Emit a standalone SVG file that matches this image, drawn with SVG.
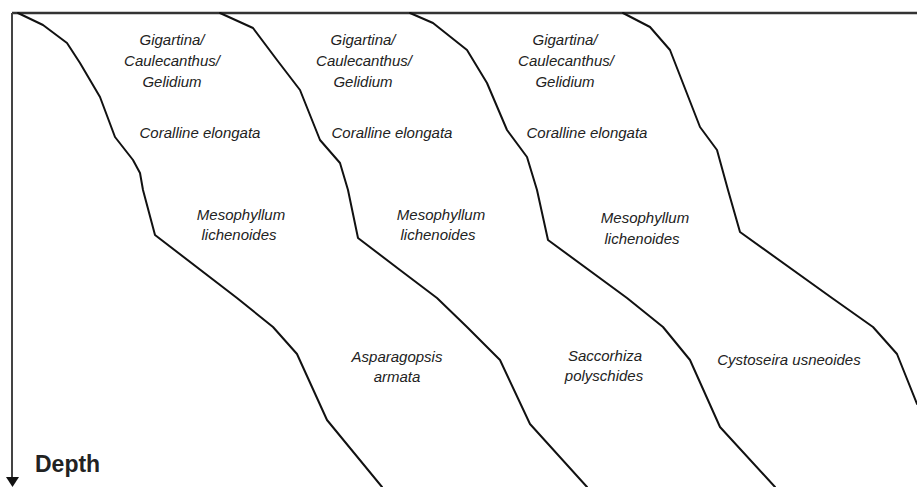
<svg xmlns="http://www.w3.org/2000/svg" width="917" height="487" viewBox="0 0 917 487">
<style>
.lbl{font-family:"Liberation Sans",Arial,sans-serif;font-style:italic;font-size:15px;fill:#222;text-anchor:middle}
.ax{font-family:"Liberation Sans",Arial,sans-serif;font-weight:bold;font-size:23px;fill:#222}
.zone{fill:none;stroke:#111;stroke-width:2;stroke-linejoin:round;stroke-linecap:round}
.axis{fill:none;stroke:#444;stroke-width:2}
</style>
<defs>
<marker id="arr" markerWidth="8" markerHeight="8" refX="4" refY="7" orient="auto" markerUnits="userSpaceOnUse" viewBox="0 0 8 8"><path d="M0,0 L8,0 L4,8 z" fill="#111"/></marker>
</defs>
<rect width="917" height="487" fill="#fff"/>
<g id="connectors">
<line class="axis" x1="12" y1="13" x2="917" y2="13" style="stroke:#333;stroke-width:2.5"/>
<line class="axis" x1="12" y1="13" x2="12" y2="478"/>
<path d="M6,477 L19,477 L12.5,487 z" fill="#111"/>
<path class="zone" d="M18,13 L43,25 L67,43 L80,63 L100,97 L115,137 L133,160 L140,173 L143,190 L155,235 L237,298 L273,327 L297,354 L327,420 L382,487"/>
<path class="zone" d="M220,13 L253,28 L277,60 L300,90 L320,140 L340,163 L348,190 L358,238 L400,270 L437,298 L467,327 L500,360 L530,424 L587,487"/>
<path class="zone" d="M410,13 L433,23 L467,50 L487,83 L507,130 L527,157 L537,190 L548,240 L627,298 L663,327 L690,360 L720,427 L775,487"/>
<path class="zone" d="M623,13 L650,27 L670,50 L700,127 L717,150 L728,190 L740,232 L832,298 L873,327 L897,354 L917,404"/>
</g>
<g id="depth-label"><text class="ax" x="35" y="472">Depth</text></g>
<g id="zone1-gigartina"><text class="lbl" x="172" y="45">Gigartina/</text><text class="lbl" x="172" y="66">Caulecanthus/</text><text class="lbl" x="172" y="87">Gelidium</text></g>
<g id="zone1-corallina"><text class="lbl" x="200" y="138">Coralline elongata</text></g>
<g id="zone1-mesophyllum"><text class="lbl" x="241" y="220">Mesophyllum</text><text class="lbl" x="239" y="240">lichenoides</text></g>
<g id="zone1-asparagopsis"><text class="lbl" x="397" y="362">Asparagopsis</text><text class="lbl" x="397" y="382">armata</text></g>
<g id="zone2-gigartina"><text class="lbl" x="363" y="45">Gigartina/</text><text class="lbl" x="364" y="66">Caulecanthus/</text><text class="lbl" x="363" y="87">Gelidium</text></g>
<g id="zone2-corallina"><text class="lbl" x="392" y="138">Coralline elongata</text></g>
<g id="zone2-mesophyllum"><text class="lbl" x="441" y="220">Mesophyllum</text><text class="lbl" x="438" y="240">lichenoides</text></g>
<g id="zone2-saccorhiza"><text class="lbl" x="605" y="361">Saccorhiza</text><text class="lbl" x="604" y="381">polyschides</text></g>
<g id="zone3-gigartina"><text class="lbl" x="565" y="45">Gigartina/</text><text class="lbl" x="566" y="66">Caulecanthus/</text><text class="lbl" x="565" y="87">Gelidium</text></g>
<g id="zone3-corallina"><text class="lbl" x="587" y="138">Coralline elongata</text></g>
<g id="zone3-mesophyllum"><text class="lbl" x="645" y="223">Mesophyllum</text><text class="lbl" x="642" y="244">lichenoides</text></g>
<g id="zone4-cystoseira"><text class="lbl" x="789" y="365">Cystoseira usneoides</text></g>
</svg>
